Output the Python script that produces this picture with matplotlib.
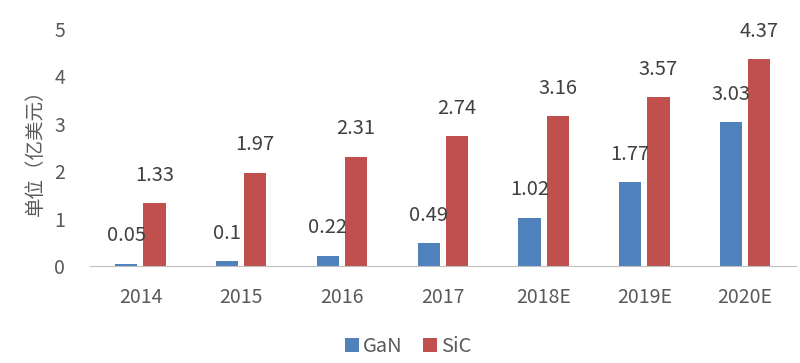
import matplotlib
matplotlib.use("Agg")
import matplotlib.pyplot as plt
import numpy as np

plt.rcParams['font.family'] = ['Noto Sans CJK SC', 'DejaVu Sans']

categories = ["2014", "2015", "2016", "2017", "2018E", "2019E", "2020E"]
gan = [0.05, 0.1, 0.22, 0.49, 1.02, 1.77, 3.03]
sic = [1.33, 1.97, 2.31, 2.74, 3.16, 3.57, 4.37]
gan_labels = ["0.05", "0.1", "0.22", "0.49", "1.02", "1.77", "3.03"]
sic_labels = ["1.33", "1.97", "2.31", "2.74", "3.16", "3.57", "4.37"]

blue = "#4F81BD"
red = "#C0504D"
text_c = "#404040"

fig = plt.figure(figsize=(8, 3.63), dpi=100)
ax = fig.add_axes([0.1125, 0.267, 0.882, 0.653])

x = np.arange(len(categories))
w = 0.22
gap = 0.03
b1 = ax.bar(x - w/2 - gap, gan, w, color=blue, label="GaN")
b2 = ax.bar(x + w/2 + gap, sic, w, color=red, label="SiC")

for xi, v, s in zip(x - w/2 - gap, gan, gan_labels):
    ax.annotate(s, (xi, v), xytext=(0, 20), textcoords="offset points",
                ha="center", va="center", fontsize=14.5, color=text_c)
for xi, v, s in zip(x + w/2 + gap, sic, sic_labels):
    ax.annotate(s, (xi, v), xytext=(0, 20), textcoords="offset points",
                ha="center", va="center", fontsize=14.5, color=text_c)

ax.set_xlim(-0.5, len(categories) - 0.5)
ax.set_ylim(0, 5)
ax.set_yticks([0, 1, 2, 3, 4, 5])
ax.set_xticks(x)
ax.set_xticklabels(categories)
ax.tick_params(axis='both', length=0, labelsize=14, labelcolor="#595959")
ax.tick_params(axis='x', pad=15)
ax.tick_params(axis='y', pad=18)
for s in ["top", "right", "left"]:
    ax.spines[s].set_visible(False)
ax.spines["bottom"].set_color("#BFBFBF")

ax.set_ylabel("单位（亿美元）", fontsize=14, color="#595959", labelpad=6)

fig.legend(handles=[b1, b2], labels=["GaN", "SiC"], loc="center",
           bbox_to_anchor=(0.51, 0.045), ncol=2, frameon=False,
           fontsize=14.5, handlelength=0.7, handleheight=0.7,
           handletextpad=0.2, columnspacing=1.0, labelcolor="#595959")

fig.savefig("out.png", dpi=100)
